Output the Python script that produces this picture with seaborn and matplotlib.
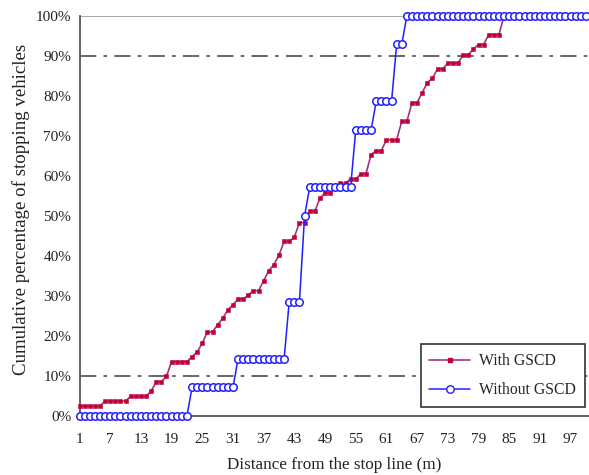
import numpy as np
import pandas as pd
import matplotlib
matplotlib.use("Agg")
import matplotlib.pyplot as plt
from matplotlib.ticker import FixedLocator, FixedFormatter
from matplotlib.lines import Line2D
import seaborn as sns

# ---- data ----
distance = list(range(1, 101))

with_gscd = (
    [2.5] * 5 + [3.7] * 5 + [4.9] * 4 +
    [6.2, 8.6, 8.6, 9.9] + [13.6] * 4 +
    [14.8, 16.0, 18.2, 21.0, 21.0, 22.8, 24.4, 26.5, 27.8, 29.2, 29.2,
     30.2, 31.3, 31.3, 33.8, 36.3, 37.8, 40.2, 43.6, 43.6, 44.7,
     48.3, 48.3, 51.1, 51.1, 54.4, 55.7, 55.7, 57.2, 58.2, 58.2,
     59.2, 59.2, 60.5, 60.5, 65.3, 66.3, 66.3, 69.0, 69.0, 69.0,
     73.6, 73.6, 78.3, 78.3, 80.8, 83.3, 84.4, 86.7, 86.7,
     88.2, 88.2, 88.2, 90.2, 90.2, 91.7, 92.8, 92.8,
     95.3, 95.3, 95.3] + [100.0] * 17
)

without_gscd = (
    [0.0] * 22 + [7.14] * 9 + [14.29] * 10 + [28.57] * 3 + [50.0] +
    [57.14] * 9 + [71.43] * 4 + [78.57] * 4 + [92.86] * 2 + [100.0] * 36
)

series_names = ["With GSCD", "Without GSCD"]
x_tick_labels = list(range(1, 101, 6))
y_ticks = list(range(0, 101, 10))
ref_lines = [10, 90]

df_with = pd.DataFrame({"d": distance, "p": with_gscd})
df_without = pd.DataFrame({"d": distance, "p": without_gscd})

# ---- style ----
sns.set_style("white")
plt.rcParams["font.family"] = ["Liberation Serif", "DejaVu Serif"]

fig = plt.figure(figsize=(5.89, 4.75), dpi=100)
ax = fig.add_axes([79.5 / 589, 1 - 416 / 475, 1 - 79.5 / 589, (416 - 15.7) / 475])

c_with_line = "#A03488"
c_with_mark = "#C0003A"
c_without = "#1F1FFF"

for y in ref_lines:
    ax.axhline(y, color="#5a5a5a", lw=1.3, dashes=(9, 4, 2, 4), zorder=1)

ax.axhline(100, color="#999999", lw=1.2, zorder=1)

sns.lineplot(data=df_with, x="d", y="p", ax=ax, color=c_with_line, lw=1.2,
             marker="s", markersize=3.3, markerfacecolor=c_with_mark,
             markeredgecolor=c_with_mark, markeredgewidth=0.4, zorder=3,
             clip_on=False)
sns.lineplot(data=df_without, x="d", y="p", ax=ax, color=c_without, lw=1.1,
             marker="o", markersize=5.4, markerfacecolor="white",
             markeredgecolor=c_without, markeredgewidth=1.1, zorder=4,
             clip_on=False)

ax.set_xlim(1, 100.6)
ax.set_ylim(0, 100)

# x: labels every 6, tick marks every 5
ax.xaxis.set_major_locator(FixedLocator(x_tick_labels))
ax.xaxis.set_major_formatter(FixedFormatter([str(v) for v in x_tick_labels]))
ax.xaxis.set_minor_locator(FixedLocator(list(range(1, 101, 5))))
ax.tick_params(axis="x", which="major", length=0, pad=12, labelsize=11,
               labelcolor="#222222")
ax.tick_params(axis="x", which="minor", length=4, width=1, color="#333333",
               direction="out")

ax.set_yticks(y_ticks)
ax.set_yticklabels([f"{v}%" for v in y_ticks])
ax.tick_params(axis="y", length=4, width=1, color="#333333", direction="out",
               labelsize=11, labelcolor="#222222", pad=2)

for s in ["right", "top"]:
    ax.spines[s].set_visible(False)
for s in ["left", "bottom"]:
    ax.spines[s].set_color("#555555")
    ax.spines[s].set_linewidth(1.3)

ax.set_xlabel("Distance from the stop line (m)", fontsize=12.3, color="#222222",
              labelpad=8)
ax.set_ylabel("Cumulative percentage of stopping vehicles", fontsize=13.6,
              color="#222222")
ax.yaxis.set_label_coords(-0.098, 0.517)

handles = [
    Line2D([0], [0], color=c_with_line, lw=1.2, marker="s", markersize=3.3,
           markerfacecolor=c_with_mark, markeredgecolor=c_with_mark),
    Line2D([0], [0], color=c_without, lw=1.1, marker="o", markersize=5.4,
           markerfacecolor="white", markeredgecolor=c_without),
]
leg = ax.legend(handles, series_names, loc="lower right",
                bbox_to_anchor=(585 / 589, 1 - 407 / 475),
                bbox_transform=fig.transFigure, borderaxespad=0,
                fontsize=11.3, frameon=True, fancybox=False, framealpha=1,
                edgecolor="#333333", handlelength=2.6, borderpad=0.55,
                labelspacing=0.85, handletextpad=0.6)
leg.get_frame().set_linewidth(1.2)
leg.set_zorder(10)

fig.savefig("out.png", dpi=100)
